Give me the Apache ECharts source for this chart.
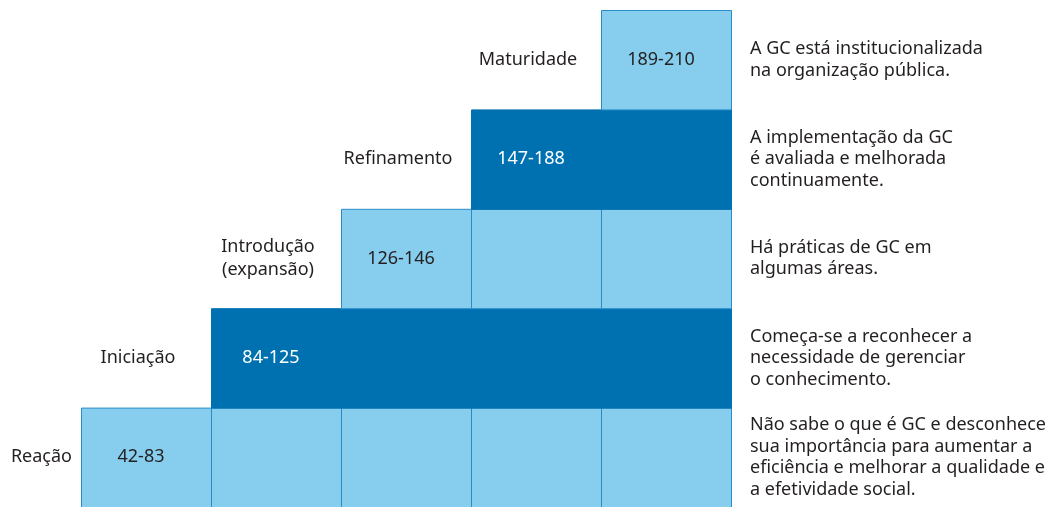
<!DOCTYPE html>
<html>
<head>
<meta charset="utf-8">
<script src="https://cdn.jsdelivr.net/npm/echarts@6/dist/echarts.min.js"></script>
<style>
  html, body { margin: 0; padding: 0; background: #fff; }
  #box { width: 1057px; height: 507px; }
</style>
</head>
<body>
<div id="box"></div>
<script>
// níveis de maturidade, de baixo para cima
var levels = ['Reação', 'Iniciação', 'Introdução\n(expansão)', 'Refinamento', 'Maturidade'];
var ranges = ['42-83', '84-125', '126-146', '147-188', '189-210'];
var descriptions = [
    'Não sabe o que é GC e desconhece\nsua importância para aumentar a\neficiência e melhorar a qualidade e\na efetividade social.',
    'Começa-se a reconhecer a\nnecessidade de gerenciar\no conhecimento.',
    'Há práticas de GC em\nalgumas áreas.',
    'A implementação da GC\né avaliada e melhorada\ncontinuamente.',
    'A GC está institucionalizada\nna organização pública.'
];
var merged = [0, 1, 0, 1, 0];
var columns = 5;

var LIGHT = '#87CEEE';
var BORDER = '#2A8BC9';
var DARK = '#0071B0';
var TEXT = '#231F20';
var FONT = '18px "Noto Sans", "Open Sans", sans-serif';

// cada degrau vai da sua coluna até a última
var cells = [];
levels.forEach(function (name, row) {
    if (merged[row]) {
        cells.push([row, columns, row, 1]);
    } else {
        for (var c = row; c < columns; c++) cells.push([c, c + 1, row, 0]);
    }
});

var myChart = echarts.init(document.getElementById('box'));

var option = {
    animation: false,
    grid: { left: 81, top: 10, width: 650, height: 500 },
    xAxis: { type: 'value', min: 0, max: columns, show: false },
    yAxis: { type: 'value', min: 0, max: levels.length, show: false },
    series: [
        {
            type: 'custom',
            name: 'cells',
            data: cells,
            renderItem: function (params, api) {
                var p0 = api.coord([api.value(0), api.value(2) + 1]);
                var p1 = api.coord([api.value(1), api.value(2)]);
                var dark = api.value(3) === 1;
                return {
                    type: 'rect',
                    shape: { x: p0[0] + 0.5, y: p0[1] + 0.5, width: p1[0] - p0[0], height: p1[1] - p0[1] },
                    style: { fill: dark ? DARK : LIGHT, stroke: dark ? DARK : BORDER, lineWidth: 1 }
                };
            }
        },
        {
            type: 'custom',
            name: 'labels',
            data: levels.map(function (n, i) { return [i]; }),
            renderItem: function (params, api) {
                var row = api.value(0);
                var mid = api.coord([row + 0.5, row + 0.5]);
                var left = api.coord([row, row + 0.5]);
                var prev = api.coord([row - 0.5, row + 0.5]);
                var end = api.coord([columns, row + 0.5]);
                var nameStyle = row === 0
                    ? { x: left[0] - 9, align: 'right' }
                    : { x: prev[0] - 8, align: 'center' };
                return {
                    type: 'group',
                    children: [
                        {
                            type: 'text',
                            style: {
                                x: mid[0] - 5, y: mid[1], text: ranges[row],
                                fill: merged[row] ? '#fff' : TEXT,
                                font: FONT, align: 'center', verticalAlign: 'middle'
                            }
                        },
                        {
                            type: 'text',
                            style: {
                                x: nameStyle.x, y: mid[1], text: levels[row],
                                fill: TEXT, font: FONT, align: nameStyle.align,
                                verticalAlign: 'middle', lineHeight: 23
                            }
                        },
                        {
                            type: 'text',
                            style: {
                                x: end[0] + 19, y: mid[1], text: descriptions[row],
                                fill: TEXT, font: FONT, align: 'left',
                                verticalAlign: 'middle', lineHeight: 21.5
                            }
                        }
                    ]
                };
            }
        }
    ]
};

myChart.setOption(option);
</script>
</body>
</html>
